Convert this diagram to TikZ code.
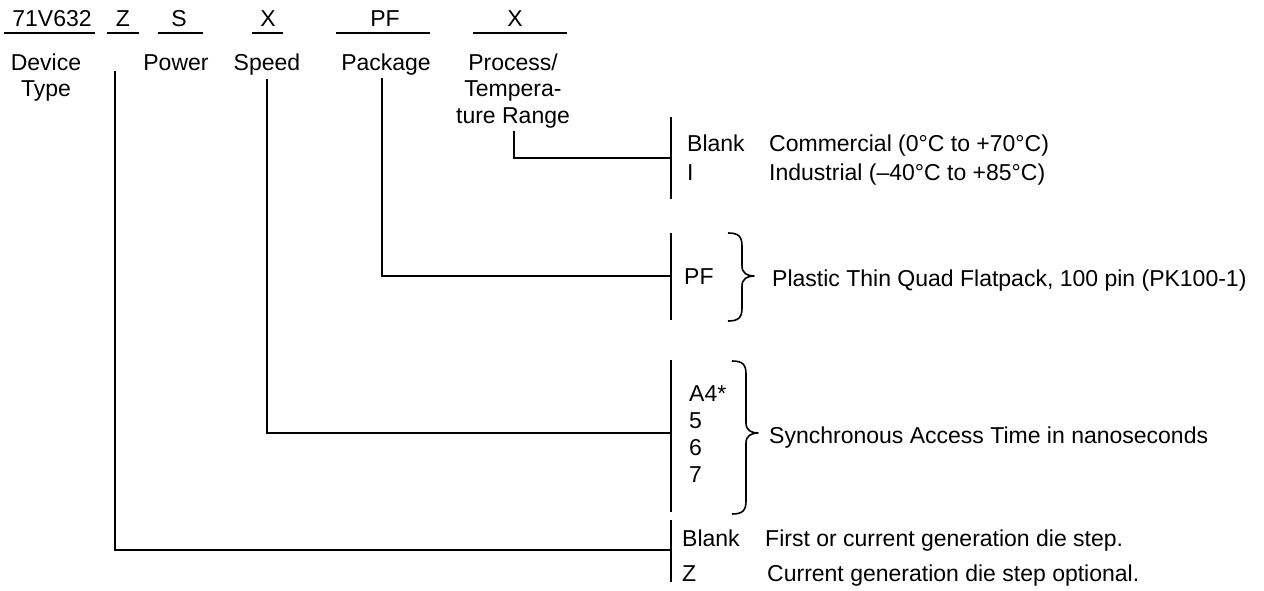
\documentclass[tikz,border=0pt]{standalone}
\usepackage{fontspec}
\setmainfont{Liberation Sans}
\begin{document}
\begin{tikzpicture}[x=1pt,y=-1pt,
  txt/.style={font=\fontsize{23}{27}\selectfont, inner sep=0pt, anchor=base},
  ltxt/.style={txt, anchor=base west},
  ln/.style={line width=1.6pt},
  brc/.style={line width=1.6pt, line join=round}]
\useasboundingbox (0,0) rectangle (1264,590);
% code line
\node[txt] (cdev) at (52,26) {71V632};
\node[txt] (cz) at (123,26) {Z};
\node[txt] (cs) at (179,26) {S};
\node[txt] (cx) at (268,26) {X};
\node[txt] (cpf) at (385,26) {PF};
\node[txt] (ct) at (515,26) {X};
\draw[ln] (4,33) -- (95,33);
\draw[ln] (107,33) -- (139,33);
\draw[ln] (158,33) -- (203,33);
\draw[ln] (252,33) -- (283,33);
\draw[ln] (336,33) -- (430,33);
\draw[ln] (473,33) -- (567,33);
% field labels
\node[txt] (ldev1) at (46,70) {Device};
\node[txt] (ldev2) at (46,96) {Type};
\node[txt] (lpow) at (176,70) {Power};
\node[txt] (lspd) at (267,70) {Speed};
\node[txt] (lpkg) at (386,70) {Package};
\node[txt] (ltmp1) at (513,70) {Process/};
\node[txt] (ltmp2) at (513,96) {Tempera-};
\node[txt] (ltmp3) at (513,123) {ture Range};
% bars
\coordinate (tbT) at (671,117); \coordinate (tbB) at (671,199); \coordinate (tbJ) at (671,158);
\coordinate (pbT) at (671,233); \coordinate (pbB) at (671,320); \coordinate (pbJ) at (671,276);
\coordinate (sbT) at (671,360); \coordinate (sbB) at (671,512); \coordinate (sbJ) at (671,433);
\coordinate (zbT) at (671,520); \coordinate (zbB) at (671,582); \coordinate (zbJ) at (671,550);
\draw[ln] (tbT) -- (tbB);
\draw[ln] (pbT) -- (pbB);
\draw[ln] (sbT) -- (sbB);
\draw[ln] (zbT) -- (zbB);
% connectors
\coordinate (zS) at (115,71);
\coordinate (sS) at (267,79);
\coordinate (pS) at (382,78);
\coordinate (tS) at (514,131);
\draw[ln] (zS) |- (zbJ);
\draw[ln] (sS) |- (sbJ);
\draw[ln] (pS) |- (pbJ);
\draw[ln] (tS) |- (tbJ);
% temperature options
\node[ltxt] (tblank) at (687,151) {Blank};
\node[ltxt] (ti) at (687,180) {I};
\node[ltxt] (tcom) at (769,151) {Commercial (0°C to +70°C)};
\node[ltxt] (tind) at (769,180) {Industrial (–40°C to +85°C)};
% package
\node[ltxt] (ppf) at (684,284) {PF};
\draw[brc] (728,233) .. controls (738,233) and (742,236) .. (742,246)
  -- (742,266) .. controls (742,273) and (747,276) .. (754,276)
  .. controls (747,276) and (742,279) .. (742,286)
  -- (742,308) .. controls (742,318) and (738,321) .. (728,321);
\node[ltxt] (ppl) at (772,286) {Plastic Thin Quad Flatpack, 100 pin (PK100-1)};
% speed
\node[ltxt] (sa4) at (689,401) {A4*};
\node[ltxt] (s5) at (689,428) {5};
\node[ltxt] (s6) at (689,455) {6};
\node[ltxt] (s7) at (689,482) {7};
\draw[brc] (732,361) .. controls (742,361) and (746,364) .. (746,374)
  -- (746,423) .. controls (746,430) and (751,433) .. (758,433)
  .. controls (751,433) and (746,436) .. (746,443)
  -- (746,501) .. controls (746,511) and (742,514) .. (732,514);
\node[ltxt] (ssyn) at (769,443) {Synchronous Access Time in nanoseconds};
% die step
\node[ltxt] (zblank) at (682,546) {Blank};
\node[ltxt] (zz) at (682,581) {Z};
\node[ltxt] (zfirst) at (765,546) {First or current generation die step.};
\node[ltxt] (zcur) at (767,581) {Current generation die step optional.};
\end{tikzpicture}
\end{document}
